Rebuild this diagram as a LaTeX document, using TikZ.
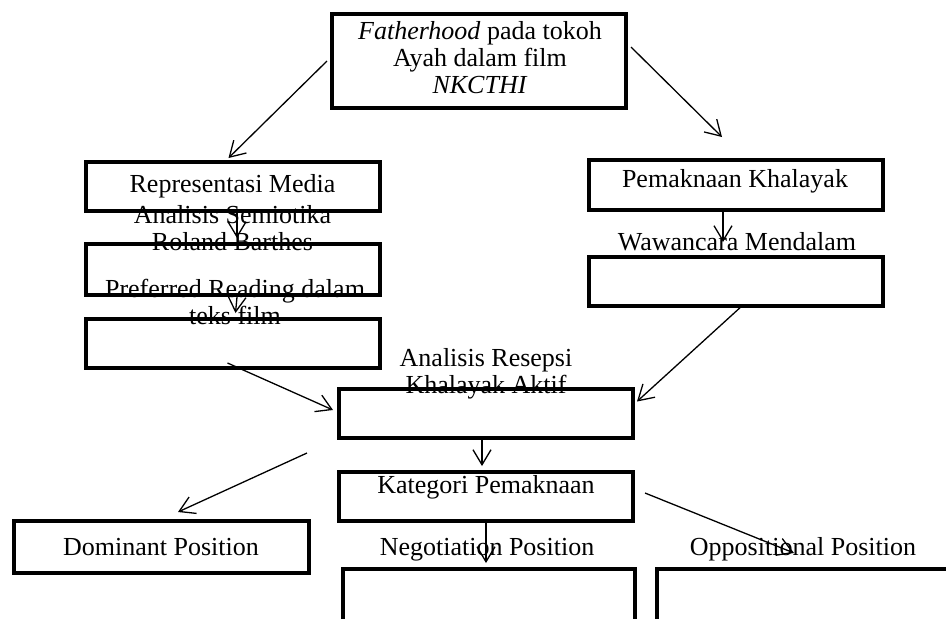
\documentclass[tikz,border=0pt]{standalone}
\usepackage{fontspec}
\setmainfont{Liberation Serif}
\usetikzlibrary{positioning, arrows.meta}

\begin{document}
\begin{tikzpicture}[x=1pt, y=-1pt,
    box/.style={draw, line width=4pt, minimum width=294pt, minimum height=49pt, inner sep=0pt},
    lbl/.style={font=\fontsize{26}{27}\selectfont, align=center, inner sep=0pt, anchor=base},
    arr/.style={-{Straight Barb[length=15pt, width=18pt]}, line width=1.3pt},
  ]
  \clip (0,0) rectangle (946,619);

  % boxes
  \node[box, minimum height=94pt] (father) at (479,61) {};
  \node[box] (repr) at (232.5,186.5) {};
  \node[box, minimum height=51pt, below=29pt of repr] (semio) {};
  \node[box, below=20pt of semio] (prefr) {};
  \node[box, minimum height=50pt] (makna) at (736,185) {};
  \node[box, below=43pt of makna] (wawan) {};
  \node[box] (resepsi) at (486,413.5) {};
  \node[box, below=30pt of resepsi] (kategori) {};
  \node[box, minimum width=295pt, minimum height=52pt] (dominant) at (161.5,547) {};
  \node[box, minimum width=292pt, minimum height=96pt] (negotiation) at (489,617) {};
  \node[box, minimum width=296pt, minimum height=96pt] (oppositional) at (805,617) {};

  % texts (multi-line ones sit on their last baseline)
  \node[lbl] (fatherT) at (480,93) {\textit{Fatherhood} pada tokoh\\Ayah dalam film\\\textit{NKCTHI}};
  \node[lbl] (reprT) at (232.5,192) {Representasi Media};
  \node[lbl] (semioT) at (232.5,250) {Analisis Semiotika\\Roland Barthes};
  \node[lbl] (prefrT) at (235,324) {Preferred Reading dalam\\teks film};
  \node[lbl] (maknaT) at (735,187) {Pemaknaan Khalayak};
  \node[lbl] (wawanT) at (737,250) {Wawancara Mendalam};
  \node[lbl] (resepsiT) at (486,393) {Analisis Resepsi\\Khalayak Aktif};
  \node[lbl] (kategoriT) at (486,493) {Kategori Pemaknaan};
  \node[lbl] (dominantT) at (161,555) {Dominant Position};
  \node[lbl] (negotiationT) at (487,555) {Negotiation Position};
  \node[lbl] (oppositionalT) at (803,555) {Oppositional Position};

  % connectors
  \draw[arr] ([xshift=-3pt]father.west) -- ([shift={(-4,-2)}]repr.north);
  \draw[arr] ([shift={(3,-14)}]father.east) -- ([shift={(-14,-21)}]makna.north);
  \draw[arr] ([xshift=4.5pt]repr.south) -- ([shift={(4.5,-4)}]semio.north);
  \draw[arr] ([xshift=4.5pt]semio.south) -- ([shift={(3,-4)}]prefr.north);
  \draw[arr] ([shift={(-13,-2)}]makna.south) -- ([shift={(-13,-13)}]wawan.north);
  \draw[arr] ([shift={(7,-3)}]wawan.south) -- ([shift={(2,-12)}]resepsi.east);
  \draw[arr] ([shift={(-5,-7)}]prefr.south) -- ([shift={(-4,-3.5)}]resepsi.west);
  \draw[arr] ([shift={(-4,-3)}]resepsi.south) -- ([shift={(-4,-4)}]kategori.north);
  \draw[arr] ([shift={(-30,-43.5)}]kategori.west) -- ([shift={(16.5,-7)}]dominant.north);
  \draw[arr] (kategori.south) -- ([shift={(-3,-4)}]negotiation.north);
  \draw[arr] ([shift={(10,-3.5)}]kategori.east) -- ([shift={(-11,-14)}]oppositional.north);
\end{tikzpicture}
\end{document}
